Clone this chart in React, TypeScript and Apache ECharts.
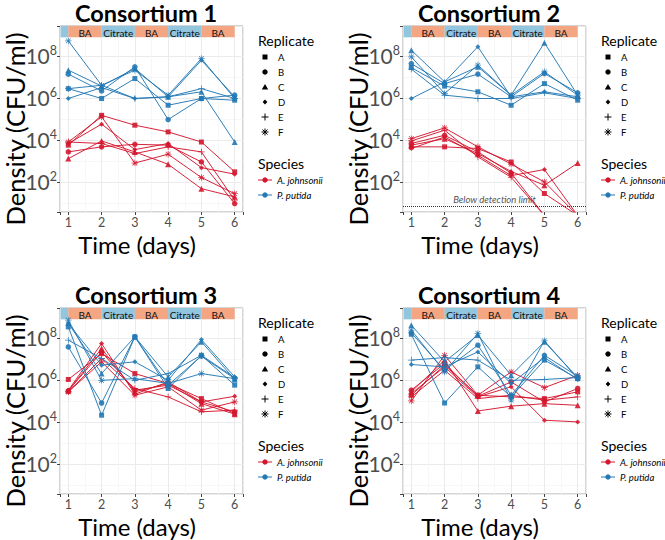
import React, { useEffect, useRef } from "react";
import * as echarts from "echarts";

// ---------- data (log10 CFU/ml), rows = replicates A–F, columns = days 1–6 ----------
const days = [1, 2, 3, 4, 5, 6];
const replicates = ["A", "B", "C", "D", "E", "F"];
const speciesNames = ["A. johnsonii", "P. putida"];
const consortia = ["Consortium 1", "Consortium 2", "Consortium 3", "Consortium 4"];
const yTickExponents = [2, 4, 6, 8];
// medium phases shown in the strip on top of each panel
const phaseNames = ["", "BA", "Citrate", "BA", "Citrate", "BA"];
const phaseMedia = ["Citrate", "BA", "Citrate", "BA", "Citrate", "BA"];
const phaseStarts = [0.77, 1, 2, 3, 4, 5];
const phaseEnds = [1, 2, 3, 4, 5, 6];
const detectionLimitLog = 0.86; // consortium 2 detection limit (log10)
const ND = null; // below detection limit

const c1Ajohnsonii = [
  [3.75, 5.17, 4.7, 4.38, 3.9, 2.48],
  [3.43, 3.67, 3.79, 3.75, 2.95, 0.97],
  [3.11, 3.95, 3.43, 2.84, 1.68, 1.29],
  [3.83, 4.75, 3.54, 3.83, 2.68, 2.37],
  [3.9, 3.83, 3.35, 3.67, 3.43, 1.13],
  [3.9, 5.1, 2.9, 3.32, 2.21, 1.44],
];
const c1Pputida = [
  [6.44, 5.97, 6.92, 5.65, 5.97, 5.89],
  [7.13, 6.33, 7.48, 4.97, 5.97, 6.13],
  [7.32, 6.56, 7.4, 6.05, 6.29, 3.9],
  [5.97, 6.49, 5.97, 6.05, 7.79, 6.05],
  [6.44, 6.6, 5.97, 6.05, 6.44, 5.97],
  [8.71, 6.6, 7.32, 6.13, 7.87, 5.97],
];
const c2Ajohnsonii = [
  [3.67, 3.67, 3.59, 2.95, 1.45, ND],
  [3.83, 4.22, 3.43, 2.42, ND, ND],
  [3.75, 4.06, 3.35, 2.5, 1.84, 2.9],
  [3.59, 4.14, 3.27, 2.3, 2.59, ND],
  [3.95, 4.46, 3.19, 2.22, ND, ND],
  [4.06, 4.57, 3.67, 2.85, 2.0, ND],
];
const c2Pputida = [
  [7.44, 6.56, 6.29, 5.65, 6.68, 5.89],
  [7.63, 6.68, 7.13, 6.05, 7.16, 6.24],
  [8.27, 6.76, 7.48, 6.13, 8.62, 6.13],
  [5.97, 6.76, 8.43, 6.05, 6.29, 6.05],
  [7.37, 6.13, 5.97, 5.97, 6.24, 5.97],
  [7.95, 6.21, 7.56, 6.13, 7.24, 6.13],
];
const c3Ajohnsonii = [
  [6.02, 7.25, 6.3, 5.83, 5.11, 4.4],
  [5.48, 7.33, 5.51, 5.75, 4.95, 4.48],
  [5.48, 7.49, 5.43, 5.83, 4.87, 4.37],
  [5.51, 7.73, 5.32, 5.9, 4.95, 5.22],
  [5.43, 7.02, 5.59, 5.19, 4.48, 4.56],
  [5.43, 6.86, 5.27, 5.67, 4.56, 4.95],
];
const c3Pputida = [
  [8.52, 4.32, 8.05, 5.59, 7.17, 5.75],
  [7.57, 4.9, 8.05, 5.75, 7.13, 6.06],
  [8.71, 6.3, 8.05, 6.14, 7.81, 6.02],
  [8.68, 6.7, 6.86, 5.98, 7.92, 6.14],
  [7.89, 7.02, 5.98, 6.3, 7.17, 6.11],
  [8.84, 5.98, 6.06, 5.83, 6.3, 6.06],
];
const c4Ajohnsonii = [
  [5.27, 6.7, 5.27, 5.19, 5.11, 5.43],
  [5.51, 6.78, 5.22, 5.9, 4.95, 5.59],
  [5.43, 6.94, 4.52, 4.75, 4.87, 4.79],
  [5.35, 6.62, 5.19, 5.67, 4.08, 4.0],
  [5.19, 6.46, 5.11, 5.27, 5.03, 5.19],
  [5.0, 7.17, 5.27, 6.38, 5.63, 6.22],
];
const c4Pputida = [
  [8.17, 4.9, 6.62, 5.19, 6.94, 6.06],
  [8.24, 6.46, 7.65, 5.27, 7.17, 6.17],
  [8.6, 6.86, 8.13, 6.22, 7.81, 6.11],
  [6.73, 6.62, 7.33, 5.83, 7.06, 6.02],
  [6.94, 7.06, 6.94, 5.98, 6.02, 6.11],
  [8.37, 6.38, 8.21, 5.03, 7.86, 6.06],
];
const panelData = [
  [c1Ajohnsonii, c1Pputida],
  [c2Ajohnsonii, c2Pputida],
  [c3Ajohnsonii, c3Pputida],
  [c4Ajohnsonii, c4Pputida],
];

// ---------- styling ----------
const FONT = "Lato, 'Noto Sans', sans-serif";
const SPECIES_COLORS = ["#D4172F", "#2479B5"];
const MEDIUM_COLORS: Record<string, string> = { BA: "#F4A582", Citrate: "#92C5DE" };
const PLUS = "path://M0,4.4H10V5.6H0Z M4.4,0H5.6V10H4.4Z";
const STAR =
  "path://M0,4.45H10V5.55H0Z M4.45,0H5.55V10H4.45Z M1,1.8L1.8,1L9,8.2L8.2,9Z M8.2,1L9,1.8L1.8,9L1,8.2Z";
const SYMBOLS = ["rect", "circle", "triangle", "diamond", PLUS, STAR];
const SYMBOL_SIZES = [5, 5.5, 6, 5, 6.5, 6.5];
const X_MIN = 0.75, X_MAX = 6.25, Y_MIN = 0.57, Y_MAX = 9.42;
const STRIP_BOTTOM = 8.88;
const FLOOR = 0.4; // where undetected samples are drawn (below the panel)
const PANELS = [
  { left: 60, top: 26 },
  { left: 403, top: 26 },
  { left: 60, top: 308 },
  { left: 403, top: 308 },
];
const PW = 183, PH = 186;

function buildOption() {
  const grid: any[] = [];
  const xAxis: any[] = [];
  const yAxis: any[] = [];
  const series: any[] = [];
  const elements: any[] = [];

  PANELS.forEach((p, i) => {
    grid.push({
      left: p.left, top: p.top, width: PW, height: PH, show: true,
      backgroundColor: "#fff", borderColor: "#A8A8A8", borderWidth: 1,
    });
    xAxis.push({
      type: "value", gridIndex: i, min: X_MIN, max: X_MAX, splitNumber: 5,
      axisLine: { show: false },
      axisTick: { show: true, length: 3, lineStyle: { color: "#444", width: 1 } },
      axisLabel: {
        margin: 4, color: "#4D4D4D", fontSize: 12.5, fontFamily: FONT,
        formatter: (v: number) => (days.includes(Math.round(v)) && Math.abs(v - Math.round(v)) < 1e-6 ? String(Math.round(v)) : ""),
      },
      splitLine: { show: true, lineStyle: { color: "#EBEBEB", width: 1 } },
      minorTick: { show: false, splitNumber: 2 },
      minorSplitLine: { show: true, lineStyle: { color: "#F3F3F3", width: 0.7 } },
    });
    yAxis.push({
      type: "value", gridIndex: i, min: Y_MIN, max: Y_MAX, splitNumber: 5,
      axisLine: { show: false },
      axisTick: { show: true, length: 3, lineStyle: { color: "#444", width: 1 } },
      axisLabel: {
        margin: 3, color: "#4D4D4D", fontFamily: FONT,
        formatter: (v: number) => {
          const r = Math.round(v);
          return Math.abs(v - r) < 1e-6 && yTickExponents.includes(r) ? `{b|10}{s|${r}}` : "";
        },
        rich: {
          b: { fontSize: 21, color: "#4D4D4D", fontFamily: FONT, lineHeight: 24 },
          s: { fontSize: 12.5, color: "#4D4D4D", fontFamily: FONT, verticalAlign: "top", lineHeight: 14 },
        },
      },
      splitLine: { show: true, lineStyle: { color: "#EBEBEB", width: 1 } },
      minorTick: { show: false, splitNumber: 2 },
      minorSplitLine: { show: true, lineStyle: { color: "#F3F3F3", width: 0.7 } },
    });

    let first = true;
    [1, 0].forEach((s) => {
      panelData[i][s].forEach((vals: (number | null)[], r: number) => {
        const ser: any = {
          type: "line",
          name: `${consortia[i]} ${speciesNames[s]} ${replicates[r]}`,
          xAxisIndex: i, yAxisIndex: i,
          data: vals.map((v, k) => (v === null ? { value: [days[k], FLOOR], symbol: "none" } : [days[k], v])),
          symbol: SYMBOLS[r], symbolSize: SYMBOL_SIZES[r],
          lineStyle: { width: 1, color: SPECIES_COLORS[s], opacity: 0.95 },
          itemStyle: { color: SPECIES_COLORS[s], opacity: 0.9 },
          emphasis: { disabled: true }, silent: true, clip: true, z: 3 + s,
        };
        if (first) {
          first = false;
          ser.markArea = {
            silent: true,
            label: { show: true, position: "inside", offset: [0, 1.5], color: "#111", fontSize: 10, fontFamily: FONT },
            data: phaseNames.map((nm, k) => [
              { name: nm, xAxis: phaseStarts[k], yAxis: STRIP_BOTTOM, itemStyle: { color: MEDIUM_COLORS[phaseMedia[k]], opacity: 1 } },
              { xAxis: phaseEnds[k], yAxis: Y_MAX },
            ]),
          };
          if (i === 1) {
            ser.markLine = {
              silent: true, symbol: ["none", "none"],
              lineStyle: { type: "dotted", color: "#333", width: 1 },
              label: {
                show: true, position: "insideMiddleTop", formatter: "Below detection limit",
                fontStyle: "italic", color: "#555", fontSize: 9.5, fontFamily: FONT, distance: 1,
              },
              data: [{ yAxis: detectionLimitLog }],
            };
          }
        }
        series.push(ser);
      });
    });

    // titles
    elements.push({
      type: "text", x: p.left + 86, y: p.top - 13.4, z: 10,
      style: { text: consortia[i], font: `bold 23.5px ${FONT}`, fill: "#000", textAlign: "center", textVerticalAlign: "middle" },
    });
    elements.push({
      type: "text", x: p.left - 45, y: p.top + 103, rotation: Math.PI / 2, z: 10,
      style: { text: "Density (CFU/ml)", font: `25.5px ${FONT}`, fill: "#000", textAlign: "center", textVerticalAlign: "middle" },
    });
    elements.push({
      type: "text", x: p.left + 77, y: p.top + 218.6, z: 10,
      style: { text: "Time (days)", font: `24px ${FONT}`, fill: "#000", textAlign: "center", textVerticalAlign: "middle" },
    });

    // legends
    const lx = p.left + 198, ly = p.top;
    elements.push({
      type: "text", x: lx, y: ly + 14, z: 10,
      style: { text: "Replicate", font: `14px ${FONT}`, fill: "#000", textAlign: "left", textVerticalAlign: "middle" },
    });
    replicates.forEach((rep, r) => {
      const cx = lx + 7, cy = ly + 31 + 15 * r;
      const k = { fill: "#000" };
      if (r === 0) elements.push({ type: "rect", z: 10, shape: { x: cx - 2.5, y: cy - 2.5, width: 5, height: 5 }, style: k });
      if (r === 1) elements.push({ type: "circle", z: 10, shape: { cx, cy, r: 2.7 }, style: k });
      if (r === 2) elements.push({ type: "polygon", z: 10, shape: { points: [[cx, cy - 3], [cx + 3.2, cy + 2.5], [cx - 3.2, cy + 2.5]] }, style: k });
      if (r === 3) elements.push({ type: "polygon", z: 10, shape: { points: [[cx, cy - 2.6], [cx + 2.4, cy], [cx, cy + 2.6], [cx - 2.4, cy]] }, style: k });
      if (r === 4 || r === 5) {
        const ls = { stroke: "#000", lineWidth: 1 };
        elements.push({ type: "line", z: 10, shape: { x1: cx - 3.5, y1: cy, x2: cx + 3.5, y2: cy }, style: ls });
        elements.push({ type: "line", z: 10, shape: { x1: cx, y1: cy - 3.5, x2: cx, y2: cy + 3.5 }, style: ls });
        if (r === 5) {
          elements.push({ type: "line", z: 10, shape: { x1: cx - 2.5, y1: cy - 2.5, x2: cx + 2.5, y2: cy + 2.5 }, style: ls });
          elements.push({ type: "line", z: 10, shape: { x1: cx + 2.5, y1: cy - 2.5, x2: cx - 2.5, y2: cy + 2.5 }, style: ls });
        }
      }
      elements.push({
        type: "text", x: lx + 20, y: cy, z: 10,
        style: { text: rep, font: `9.5px ${FONT}`, fill: "#000", textAlign: "left", textVerticalAlign: "middle" },
      });
    });
    elements.push({
      type: "text", x: lx, y: ly + 137, z: 10,
      style: { text: "Species", font: `14px ${FONT}`, fill: "#000", textAlign: "left", textVerticalAlign: "middle" },
    });
    speciesNames.forEach((sp, s) => {
      const cy = ly + 154 + 15 * s;
      elements.push({ type: "line", z: 10, shape: { x1: lx, y1: cy, x2: lx + 14, y2: cy }, style: { stroke: SPECIES_COLORS[s], lineWidth: 1 } });
      elements.push({ type: "circle", z: 10, shape: { cx: lx + 7, cy, r: 2.7 }, style: { fill: SPECIES_COLORS[s] } });
      elements.push({
        type: "text", x: lx + 19, y: cy, z: 10,
        style: { text: sp, font: `italic 9.5px ${FONT}`, fill: "#000", textAlign: "left", textVerticalAlign: "middle" },
      });
    });
  });

  return {
    animation: false,
    backgroundColor: "#fff",
    grid, xAxis, yAxis, series,
    graphic: { elements },
  };
}

export default function App() {
  const ref = useRef<HTMLDivElement>(null);
  useEffect(() => {
    if (!ref.current) return;
    const chart = echarts.init(ref.current, null, { renderer: "svg" });
    chart.setOption(buildOption() as any);
    return () => chart.dispose();
  }, []);
  return (
    <div
      ref={ref}
      style={{ position: "fixed", left: 0, top: 0, width: 665, height: 540, background: "#fff" }}
    />
  );
}
